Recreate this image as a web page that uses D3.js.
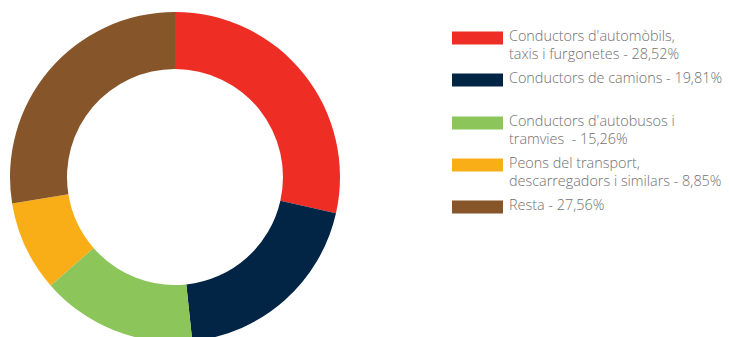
<!DOCTYPE html>
<html><head><meta charset="utf-8">
<script src="https://cdn.jsdelivr.net/npm/d3@7"></script>
<style>body{margin:0;background:#fff}svg{display:block}</style>
</head><body>
<svg id="c" width="729" height="337"></svg>
<script>
const categories = ["Conductors d'automòbils, taxis i furgonetes", "Conductors de camions", "Conductors d'autobusos i tramvies", "Peons del transport, descarregadors i similars", "Resta"];
const values = [28.52, 19.81, 15.26, 8.85, 27.56];
const colors = ["#ee2e24", "#022546", "#8cc55a", "#f9ae17", "#87552a"];
const legendLines = [
  ["Conductors d'automòbils,", "taxis i furgonetes - 28,52%"],
  ["Conductors de camions - 19,81%"],
  ["Conductors d'autobusos i", "tramvies  - 15,26%"],
  ["Peons del transport,", "descarregadors i similars - 8,85%"],
  ["Resta - 27,56%"]
];

const svg = d3.select("#c");
const cx = 175, cy = 177, R = 165, r = 108;
const pie = d3.pie().sort(null).value(d => d)(values);
const arc = d3.arc().innerRadius(r).outerRadius(R);
svg.append("g").attr("transform", `translate(${cx},${cy})`)
  .selectAll("path").data(pie).join("path")
  .attr("d", arc).attr("fill", (d, i) => colors[i]);

const swatchY = [31.5, 73.5, 116.5, 158.5, 200.5];
const lg = svg.append("g");
legendLines.forEach((lines, i) => {
  lg.append("rect").attr("x", 452).attr("y", swatchY[i]).attr("width", 51).attr("height", 13).attr("fill", colors[i]);
  lines.forEach((t, j) => {
    lg.append("text").attr("x", 509).attr("y", swatchY[i] + 9.5 + j * 17.5)
      .attr("font-family", "Open Sans").attr("font-weight", 300).attr("font-size", 14.4)
      .attr("fill", "#6f6f6f").style("white-space", "pre").text(t);
  });
});
</script>
</body></html>
